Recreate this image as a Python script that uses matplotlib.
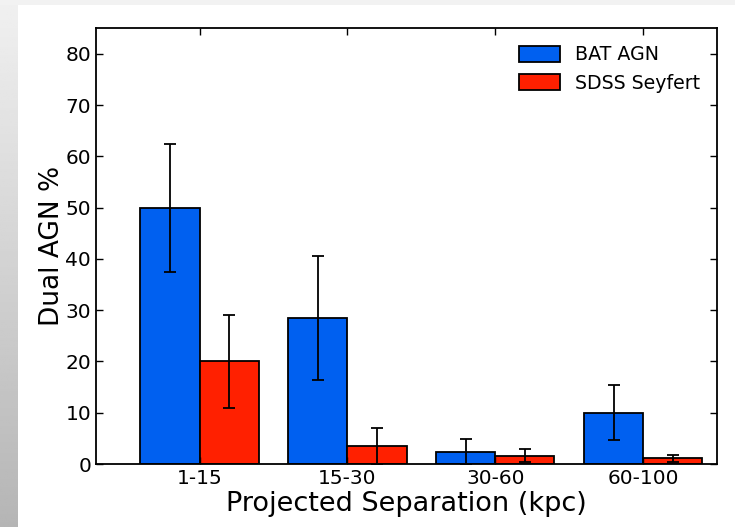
import numpy as np
import matplotlib
matplotlib.use("Agg")
import matplotlib.pyplot as plt
from matplotlib.patches import Rectangle

# data
bins = ["1-15", "15-30", "30-60", "60-100"]
bat_agn = [50.0, 28.5, 2.4, 10.0]
bat_err = [12.5, 12.1, 2.5, 5.4]
sdss_sey = [20.0, 3.5, 1.6, 1.1]
sdss_err = [9.0, 3.6, 1.3, 0.7]

blue = "#0060f0"
red = "#ff2000"

fig = plt.figure(figsize=(7.35, 5.27), dpi=100)
fig.patch.set_facecolor("#f2f2f2")

# slide-like background: grey gradient strip on the left, white panel
bg = fig.add_axes([0, 0, 18 / 735, 1 - 5 / 527])
grad = np.linspace(0.94, 0.71, 256).reshape(-1, 1)
bg.imshow(grad, cmap="gray", vmin=0, vmax=1, aspect="auto")
bg.axis("off")
fig.patches.append(Rectangle((18 / 735, 0), 1, 1 - 5 / 527, transform=fig.transFigure,
                             facecolor="white", edgecolor="none", zorder=-1))

ax = fig.add_axes([96 / 735, 1 - 464 / 527, (717 - 96) / 735, (464 - 28.3) / 527])

x = np.arange(len(bins))
w = 0.4
ekw = dict(ecolor="black", elinewidth=1.3, capsize=4, capthick=1.3)
ax.bar(x - w / 2, bat_agn, w, yerr=bat_err, color=blue, edgecolor="black",
       linewidth=1.3, label="BAT AGN", error_kw=ekw)
ax.bar(x + w / 2, sdss_sey, w, yerr=sdss_err, color=red, edgecolor="black",
       linewidth=1.3, label="SDSS Seyfert", error_kw=ekw)

ax.set_xlim(-0.7, 3.5)
ax.set_ylim(0, 85)
ax.set_xticks(x)
ax.set_xticklabels(bins)
ax.set_yticks(np.arange(0, 81, 10))
ax.tick_params(direction="in", top=True, right=True, labelsize=14.5, length=5, width=1)
for s in ax.spines.values():
    s.set_linewidth(1.3)

ax.set_ylabel("Dual AGN %", fontsize=19, labelpad=0)
ax.set_xlabel("Projected Separation (kpc)", fontsize=19.5, labelpad=2)
ax.legend(loc="upper right", frameon=False, fontsize=13.7, handlelength=2.2,
          handleheight=0.9, handletextpad=0.75, borderaxespad=0.5)

fig.savefig("out.png", dpi=100, facecolor=fig.get_facecolor())
